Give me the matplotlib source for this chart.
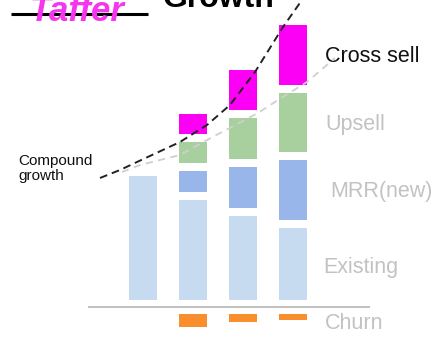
import matplotlib
matplotlib.use('Agg')
import matplotlib.pyplot as plt
import numpy as np

plt.rcParams['font.family'] = ['Liberation Sans', 'DejaVu Sans']

# ── data ──
periods = [0, 1, 2, 3]
existing = [6.2, 5.0, 4.2, 3.6]
mrr_new = [0.0, 1.05, 2.05, 3.0]
upsell = [0.0, 1.05, 2.05, 2.95]
cross_sell = [0.0, 1.0, 2.0, 3.0]
churn = [0.0, 0.65, 0.4, 0.3]

# hand-drawn guide curves
compound_x = [-0.86, -0.46, -0.12, 0.74, 1.28, 1.74, 2.24, 2.8, 3.18, 3.26]
compound_y = [6.1, 6.5, 6.9, 7.9, 8.75, 9.75, 11.4, 13.65, 15.0, 15.4]
linear_x = [-0.42, -0.06, 0.74, 1.28, 2.3, 2.7, 3.28, 3.84]
linear_y = [6.4, 6.75, 7.25, 8.0, 9.35, 10.0, 10.9, 12.1]

C_EXIST = '#c6dbf0'
C_MRR = '#98b6ea'
C_UP = '#a8cf9e'
C_CROSS = '#fb00f4'
C_CHURN = '#f98f2c'
C_LABEL = '#c2c2c2'

W, H = 445, 339
X0, SX, Y0, SY = 143, 50, 300, 20
GAP = 0.4
BW = 0.56
CHURN_TOP = -0.7


def px(x, y):
    """pixel position -> data coords"""
    return (x - X0) / SX, (Y0 - y) / SY


fig = plt.figure(figsize=(W / 100, H / 100), dpi=100)
ax = fig.add_axes([0, 0, 1, 1])
ax.set_xlim(px(0, 0)[0], px(W, 0)[0])
ax.set_ylim(px(0, H)[1], px(0, 0)[1])
ax.axis('off')

existing = np.array(existing)
mrr_new = np.array(mrr_new)
upsell = np.array(upsell)
cross_sell = np.array(cross_sell)

b_mrr = existing + GAP
b_up = b_mrr + mrr_new + GAP
b_cross = b_up + upsell + GAP

ax.bar(periods, existing, BW, color=C_EXIST)
ax.bar(periods, mrr_new, BW, bottom=b_mrr, color=C_MRR)
ax.bar(periods, upsell, BW, bottom=b_up, color=C_UP)
ax.bar(periods, cross_sell, BW, bottom=b_cross, color=C_CROSS)
ax.bar(periods, [-c for c in churn], BW, bottom=CHURN_TOP, color=C_CHURN)

# baseline
x1, yb = px(88, 307)
x2, _ = px(370, 307)
ax.plot([x1, x2], [yb, yb], color='#b5b5b5', lw=1.2, solid_capstyle='butt')

# guide lines
ax.plot(linear_x, linear_y, color='#cfcfcf', lw=1.3, ls=(0, (4, 3)), zorder=4)
ax.plot(compound_x, compound_y, color='#222222', lw=1.4, ls=(0, (4, 2.5)), zorder=5)

# right-hand labels
labels = [('Cross sell', 62, 325, '#111111'),
          ('Upsell', 130, 325, C_LABEL),
          ('MRR(new)', 197, 330, C_LABEL),
          ('Existing', 273, 323, C_LABEL),
          ('Churn', 329, 325, C_LABEL)]
for txt, yb_, xl, col in labels:
    ax.text(*px(xl, yb_), txt, fontsize=15.5, color=col, ha='left', va='baseline')

ax.text(*px(18, 165), 'Compound', fontsize=11, color='#111111', va='baseline')
ax.text(*px(18, 180), 'growth', fontsize=11, color='#111111', va='baseline')

# title (cropped at the top of the slide)
ux1, uy = px(11, 14)
ux2, _ = px(148, 14)
ax.plot([ux1, ux2], [uy, uy], color='black', lw=2.2, solid_capstyle='butt')
ax.text(*px(30, 21), 'Taffer', fontsize=25, color='#f536ee', fontweight='bold',
        style='italic', va='baseline', zorder=6)
ax.text(*px(163, 7), 'Growth', fontsize=23, color='black', fontweight='bold',
        va='baseline')

plt.savefig('out.png', dpi=100, facecolor='white')
plt.close()
